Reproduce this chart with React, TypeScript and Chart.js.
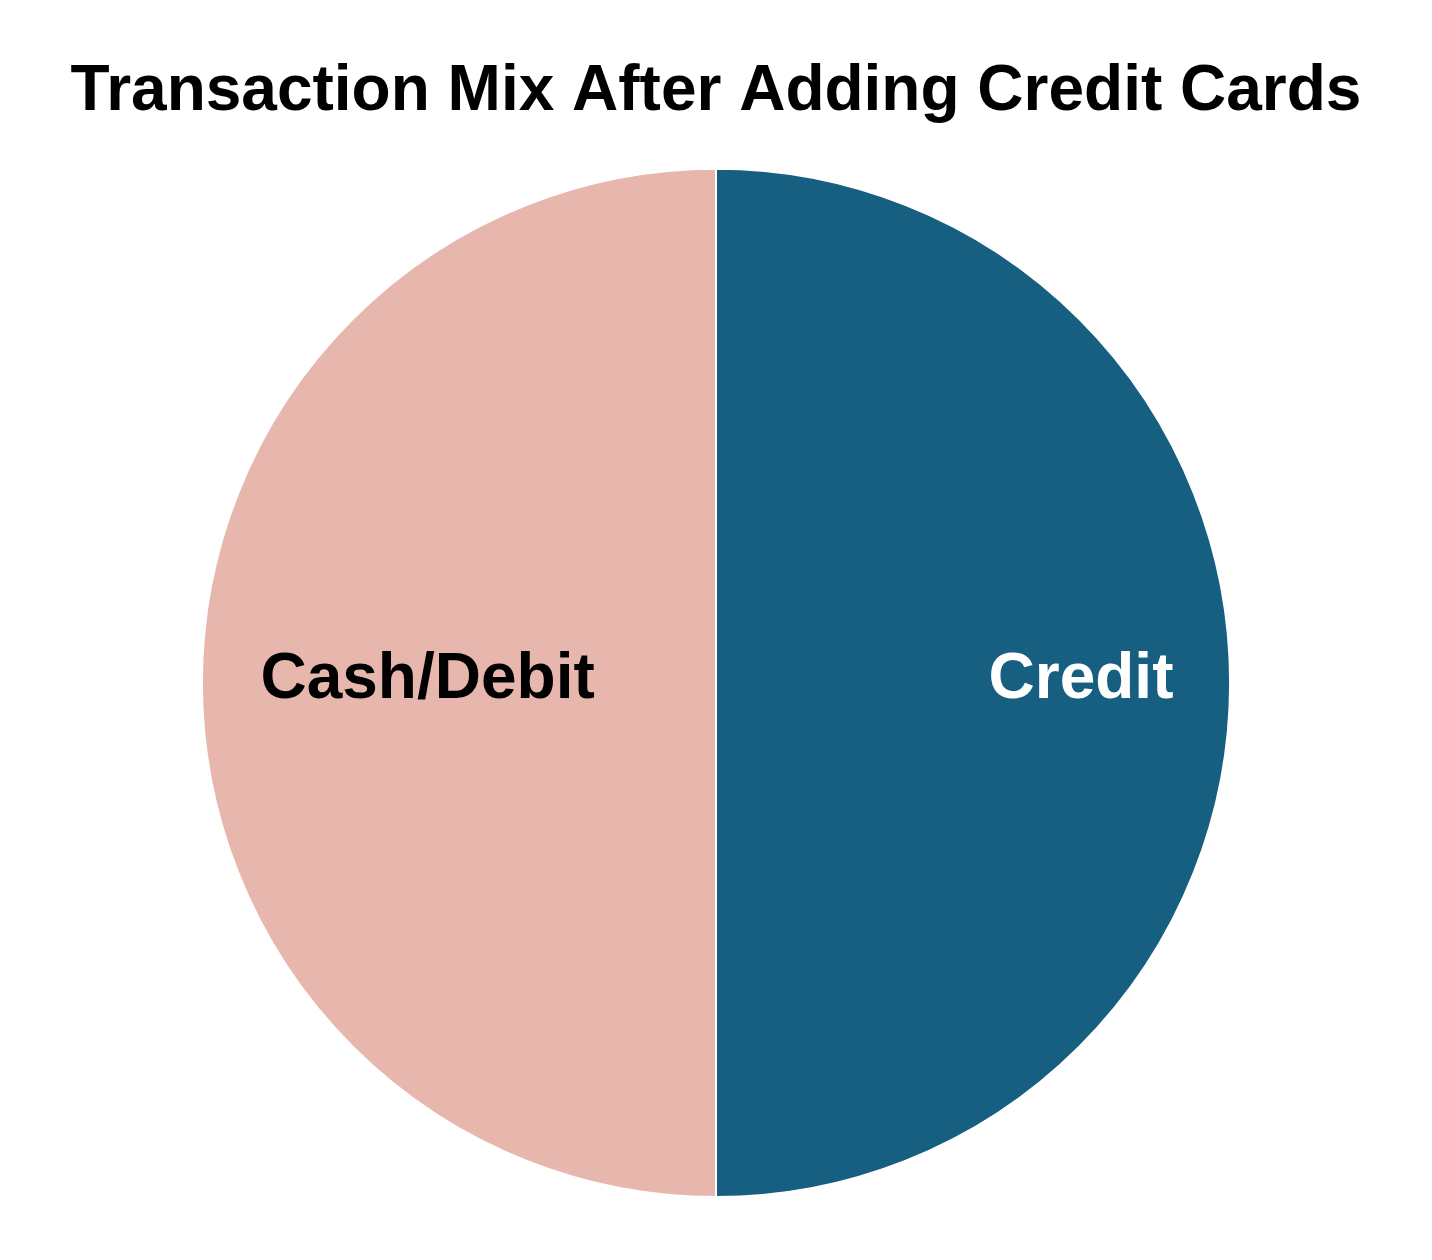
import React, { useEffect, useRef } from "react";
import { Chart, registerables } from "chart.js";

Chart.register(...registerables);

const categories = ["Credit", "Cash/Debit"];
const shares = [50, 50];
const sliceColors = ["#165f81", "#e7b7ae"];
const labelColors = ["#ffffff", "#000000"];
const labelRadiusFraction = [0.71, 0.561];

const FONT = "'Liberation Sans', Arial, sans-serif";

const sliceLabels = {
  id: "sliceLabels",
  afterDatasetsDraw(chart: any) {
    const ctx = chart.ctx;
    const meta = chart.getDatasetMeta(0);
    ctx.save();
    ctx.font = `bold 64px ${FONT}`;
    ctx.textAlign = "center";
    ctx.textBaseline = "middle";
    meta.data.forEach((arc: any, i: number) => {
      const { x, y, startAngle, endAngle, outerRadius } = arc.getProps(
        ["x", "y", "startAngle", "endAngle", "outerRadius"],
        true
      );
      const mid = (startAngle + endAngle) / 2;
      const r = outerRadius * labelRadiusFraction[i];
      ctx.fillStyle = labelColors[i];
      ctx.fillText(categories[i], x + Math.cos(mid) * r, y + Math.sin(mid) * r - 3);
    });
    ctx.restore();
  },
};

export default function App() {
  const ref = useRef<HTMLCanvasElement>(null);
  useEffect(() => {
    document.body.style.margin = "0";
    const chart = new Chart(ref.current!, {
      type: "pie",
      data: {
        labels: categories,
        datasets: [
          {
            data: shares,
            backgroundColor: sliceColors,
            borderColor: "#ffffff",
            borderWidth: 2,
          },
        ],
      },
      options: {
        animation: false,
        responsive: false,
        maintainAspectRatio: false,
        layout: { padding: { bottom: 62 } },
        plugins: {
          legend: { display: false },
          tooltip: { enabled: false },
          title: {
            display: true,
            text: "Transaction Mix After Adding Credit Cards",
            color: "#000000",
            font: { family: FONT, size: 64, weight: "bold", lineHeight: 1.2 },
            padding: { top: 54, bottom: 37 },
          },
        },
      },
      plugins: [sliceLabels],
    });
    return () => chart.destroy();
  }, []);
  return (
    <div style={{ width: 1432, height: 1260, background: "#ffffff" }}>
      <canvas ref={ref} width={1432} height={1260} style={{ display: "block" }} />
    </div>
  );
}
